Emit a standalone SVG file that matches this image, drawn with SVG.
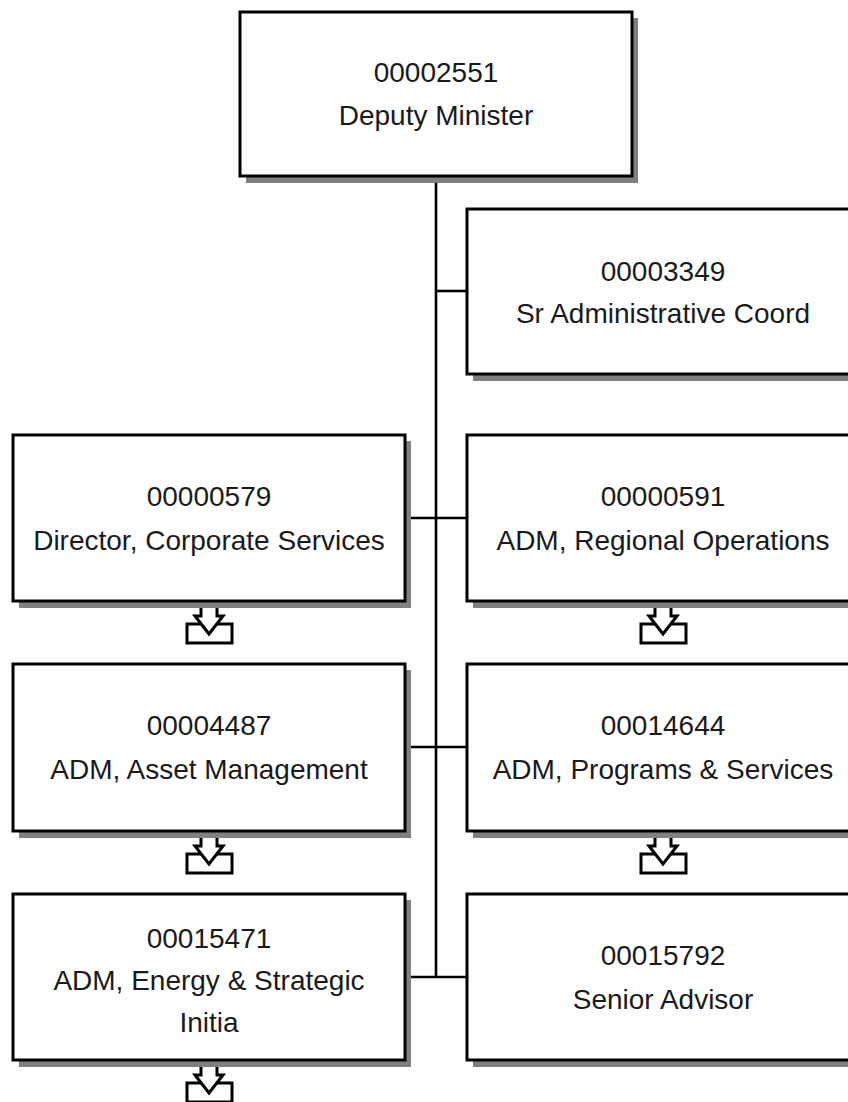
<svg xmlns="http://www.w3.org/2000/svg" width="848" height="1102" viewBox="0 0 848 1102">
<style>
.bg{fill:#ffffff}
.sh{fill:#808080}
.bx{fill:#ffffff;stroke:#000;stroke-width:3}
.t{font-family:"Liberation Sans",Arial,sans-serif;font-size:28px;fill:#1a1a1a;text-anchor:middle}
.ln{stroke:#000;stroke-width:2.6;fill:none}
.ic{fill:#ffffff;stroke:#000;stroke-width:3;stroke-linejoin:miter}
</style>
<defs>
<g id="dl">
<rect class="ic" x="-22" y="23" width="45" height="19"/>
<path class="ic" d="M-8,2 V15 H-14 L0,33 L14,15 H8 V2"/>
</g>
</defs>
<rect class="bg" x="0" y="0" width="848" height="1102"/>
<g id="connectors">
<line class="ln" x1="436" y1="176" x2="436" y2="978"/>
<line class="ln" x1="436" y1="291" x2="467" y2="291"/>
<line class="ln" x1="405" y1="518" x2="467" y2="518"/>
<line class="ln" x1="405" y1="747" x2="467" y2="747"/>
<line class="ln" x1="405" y1="977" x2="467" y2="977"/>
</g>
<g id="n00002551">
<rect class="sh" x="246" y="18" width="392" height="165"/>
<rect class="bx" x="240" y="12" width="392" height="164"/>
<text class="t" x="436" y="82">00002551</text>
<text class="t" x="436" y="125">Deputy Minister</text>
</g>
<g id="n00003349">
<rect class="sh" x="473" y="215" width="392" height="166"/>
<rect class="bx" x="467" y="209" width="392" height="165"/>
<text class="t" x="663" y="281">00003349</text>
<text class="t" x="663" y="323">Sr Administrative Coord</text>
</g>
<g id="n00000579">
<use href="#dl" x="209" y="601"/>
<rect class="sh" x="19" y="441" width="392" height="167"/>
<rect class="bx" x="13" y="435" width="392" height="166"/>
<text class="t" x="209" y="506">00000579</text>
<text class="t" x="209" y="550">Director, Corporate Services</text>
</g>
<g id="n00000591">
<use href="#dl" x="663" y="601"/>
<rect class="sh" x="473" y="441" width="392" height="167"/>
<rect class="bx" x="467" y="435" width="392" height="166"/>
<text class="t" x="663" y="506">00000591</text>
<text class="t" x="663" y="550">ADM, Regional Operations</text>
</g>
<g id="n00004487">
<use href="#dl" x="209" y="831"/>
<rect class="sh" x="19" y="670" width="392" height="168"/>
<rect class="bx" x="13" y="664" width="392" height="167"/>
<text class="t" x="209" y="735">00004487</text>
<text class="t" x="209" y="779">ADM, Asset Management</text>
</g>
<g id="n00014644">
<use href="#dl" x="663" y="831"/>
<rect class="sh" x="473" y="670" width="392" height="168"/>
<rect class="bx" x="467" y="664" width="392" height="167"/>
<text class="t" x="663" y="735">00014644</text>
<text class="t" x="663" y="779">ADM, Programs &amp; Services</text>
</g>
<g id="n00015471">
<use href="#dl" x="209" y="1060"/>
<rect class="sh" x="19" y="900" width="392" height="167"/>
<rect class="bx" x="13" y="894" width="392" height="166"/>
<text class="t" x="209" y="948">00015471</text>
<text class="t" x="209" y="990">ADM, Energy &amp; Strategic</text>
<text class="t" x="209" y="1032">Initia</text>
</g>
<g id="n00015792">
<rect class="sh" x="473" y="900" width="392" height="167"/>
<rect class="bx" x="467" y="894" width="392" height="166"/>
<text class="t" x="663" y="965">00015792</text>
<text class="t" x="663" y="1009">Senior Advisor</text>
</g>
</svg>
